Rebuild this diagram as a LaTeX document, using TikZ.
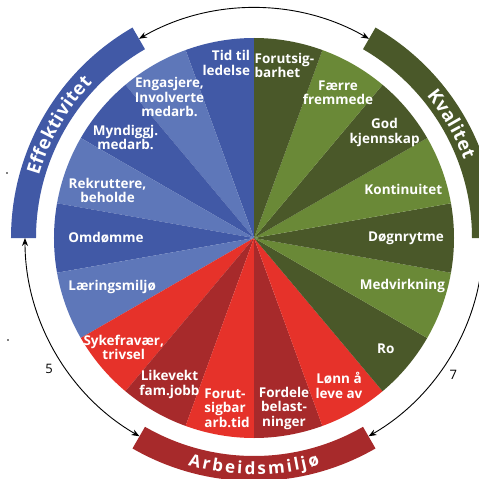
\documentclass[tikz,border=0pt]{standalone}
\usepackage{fontspec}
\setmainfont{Open Sans}
\usetikzlibrary{arrows.meta, decorations.text}
\definecolor{bluedark}{HTML}{4159A6}
\definecolor{bluelight}{HTML}{5E77B9}
\definecolor{greendark}{HTML}{4A5829}
\definecolor{greenlight}{HTML}{6A8937}
\definecolor{redlight}{HTML}{E6322A}
\definecolor{reddark}{HTML}{A72A2B}
\newcommand\bandfnt{\bfseries\fontsize{17}{17}\selectfont}
\newcommand\bandbig{\bfseries\fontsize{18.5}{18.5}\selectfont}

\begin{document}
\begin{tikzpicture}[x=1pt, y=1pt,
    lbl/.style={text=white, font=\bfseries\fontsize{13.5}{14.5}\selectfont,
                align=center, inner sep=0pt},
    bandtext/.style n args={3}{decorate, decoration={text effects along path,
                text={#1}, text align=center, text effects/.cd, text along path,
                character widths={inner xsep=#2, font=#3},
                characters={text=white, font=#3}}},
    loop arrow/.style={black, line width=0.9pt,
                {Stealth[length=8pt, width=6pt]}-{Stealth[length=8pt, width=6pt]}}]
  \useasboundingbox (-254,-241) rectangle (225,238);

  % Effektivitet sectors
  \fill[bluedark]  (0,0) -- (90:200)  arc[start angle=90,  end angle=110, radius=200] -- cycle;
  \fill[bluelight] (0,0) -- (110:200) arc[start angle=110, end angle=130, radius=200] -- cycle;
  \fill[bluedark]  (0,0) -- (130:200) arc[start angle=130, end angle=150, radius=200] -- cycle;
  \fill[bluelight] (0,0) -- (150:200) arc[start angle=150, end angle=170, radius=200] -- cycle;
  \fill[bluedark]  (0,0) -- (170:200) arc[start angle=170, end angle=190, radius=200] -- cycle;
  \fill[bluelight] (0,0) -- (190:200) arc[start angle=190, end angle=210, radius=200] -- cycle;
  % Arbeidsmiljø sectors
  \fill[redlight]  (0,0) -- (210:200) arc[start angle=210, end angle=230, radius=200] -- cycle;
  \fill[reddark]   (0,0) -- (230:200) arc[start angle=230, end angle=250, radius=200] -- cycle;
  \fill[redlight]  (0,0) -- (250:200) arc[start angle=250, end angle=270, radius=200] -- cycle;
  \fill[reddark]   (0,0) -- (270:200) arc[start angle=270, end angle=290, radius=200] -- cycle;
  \fill[redlight]  (0,0) -- (290:200) arc[start angle=290, end angle=310, radius=200] -- cycle;
  % Kvalitet sectors
  \fill[greendark]  (0,0) -- (310:200) arc[start angle=310, end angle=330, radius=200] -- cycle;
  \fill[greenlight] (0,0) -- (330:200) arc[start angle=330, end angle=350, radius=200] -- cycle;
  \fill[greendark]  (0,0) -- (350:200) arc[start angle=350, end angle=370, radius=200] -- cycle;
  \fill[greenlight] (0,0) -- (10:200)  arc[start angle=10,  end angle=30,  radius=200] -- cycle;
  \fill[greendark]  (0,0) -- (30:200)  arc[start angle=30,  end angle=50,  radius=200] -- cycle;
  \fill[greenlight] (0,0) -- (50:200)  arc[start angle=50,  end angle=70,  radius=200] -- cycle;
  \fill[greendark]  (0,0) -- (70:200)  arc[start angle=70,  end angle=90,  radius=200] -- cycle;

  % Sector labels
  \node[lbl, align=right] (tid)  at (99:177)  {Tid til\\ledelse};
  \node[lbl] (engasjere)  at (121:164) {Engasjere,\\Involverte\\medarb.};
  \node[lbl] (myndiggj)   at (142:163) {Myndiggj.\\medarb.};
  \node[lbl] (rekruttere) at (162:154) {Rekruttere,\\beholde};
  \node[lbl] (omdomme)    at (180:148) {Omdømme};
  \node[lbl] (laering)    at (199:150) {Læringsmiljø};
  \node[lbl] (syke)       at (220:170) {Sykefravær,\\trivsel};
  \node[lbl] (likevekt)   at (240:169) {Likevekt\\fam.jobb};
  \node[lbl, align=left] (arbtid) at (261:172) {Forut-\\sigbar\\arb.tid};
  \node[lbl] (fordele)    at (280:173) {Fordele\\belast-\\ninger};
  \node[lbl] (lonn)       at (300:170) {Lønn å\\leve av};
  \node[lbl] (ro)         at (320:172) {Ro};
  \node[lbl] (medvirk)    at (342:156) {Medvirkning};
  \node[lbl] (dognrytme)  at (0:152)   {Døgnrytme};
  \node[lbl] (kontinuitet) at (18:157) {Kontinuitet};
  \node[lbl] (kjennskap)  at (39:168)  {God\\kjennskap};
  \node[lbl] (faerre)     at (60:168)  {Færre\\fremmede};
  \node[lbl, align=left] (forutsig) at (80:175) {Forutsig-\\barhet};

  % Outer bands
  \fill[bluedark]  (120:218) arc[start angle=120, end angle=180, radius=218]
                   -- (180:243) arc[start angle=180, end angle=120, radius=243] -- cycle;
  \fill[greendark] (60:218) arc[start angle=60, end angle=0, radius=218]
                   -- (0:243) arc[start angle=0, end angle=60, radius=243] -- cycle;
  \fill[reddark]   (240:218) arc[start angle=240, end angle=300, radius=218]
                   -- (300:243) arc[start angle=300, end angle=240, radius=243] -- cycle;
  \path[bandtext={Effektivitet}{0.2pt}{\bandbig}]
        (180:224) arc[start angle=180, end angle=120, radius=224];
  \path[bandtext={Kvalitet}{0.2pt}{\bandbig}]
        (60:224) arc[start angle=60, end angle=0, radius=224];
  \path[bandtext={Arbeidsmiljø}{1.2pt}{\bandfnt}]
        (240:236.5) arc[start angle=240, end angle=300, radius=236.5];

  % Arrows between the bands
  \coordinate (effTop) at (120:230);
  \coordinate (effBot) at (180:229);
  \coordinate (kvaBot) at (0:229);
  \draw[loop arrow] (effTop) arc[start angle=120, end angle=60, radius=230];
  \draw[loop arrow] (effBot) arc[start angle=180, end angle=240, radius=229];
  \draw[loop arrow] (kvaBot) arc[start angle=360, end angle=300, radius=229];
  \node[font=\fontsize{13}{13}\selectfont] (five)  at (212.5:243) {5};
  \node[font=\fontsize{13}{13}\selectfont] (seven) at (325.5:242) {7};

  % stray marks
  \fill (-247,65) circle[radius=0.8];
  \fill (-246,-102) circle[radius=0.8];
\end{tikzpicture}
\end{document}
